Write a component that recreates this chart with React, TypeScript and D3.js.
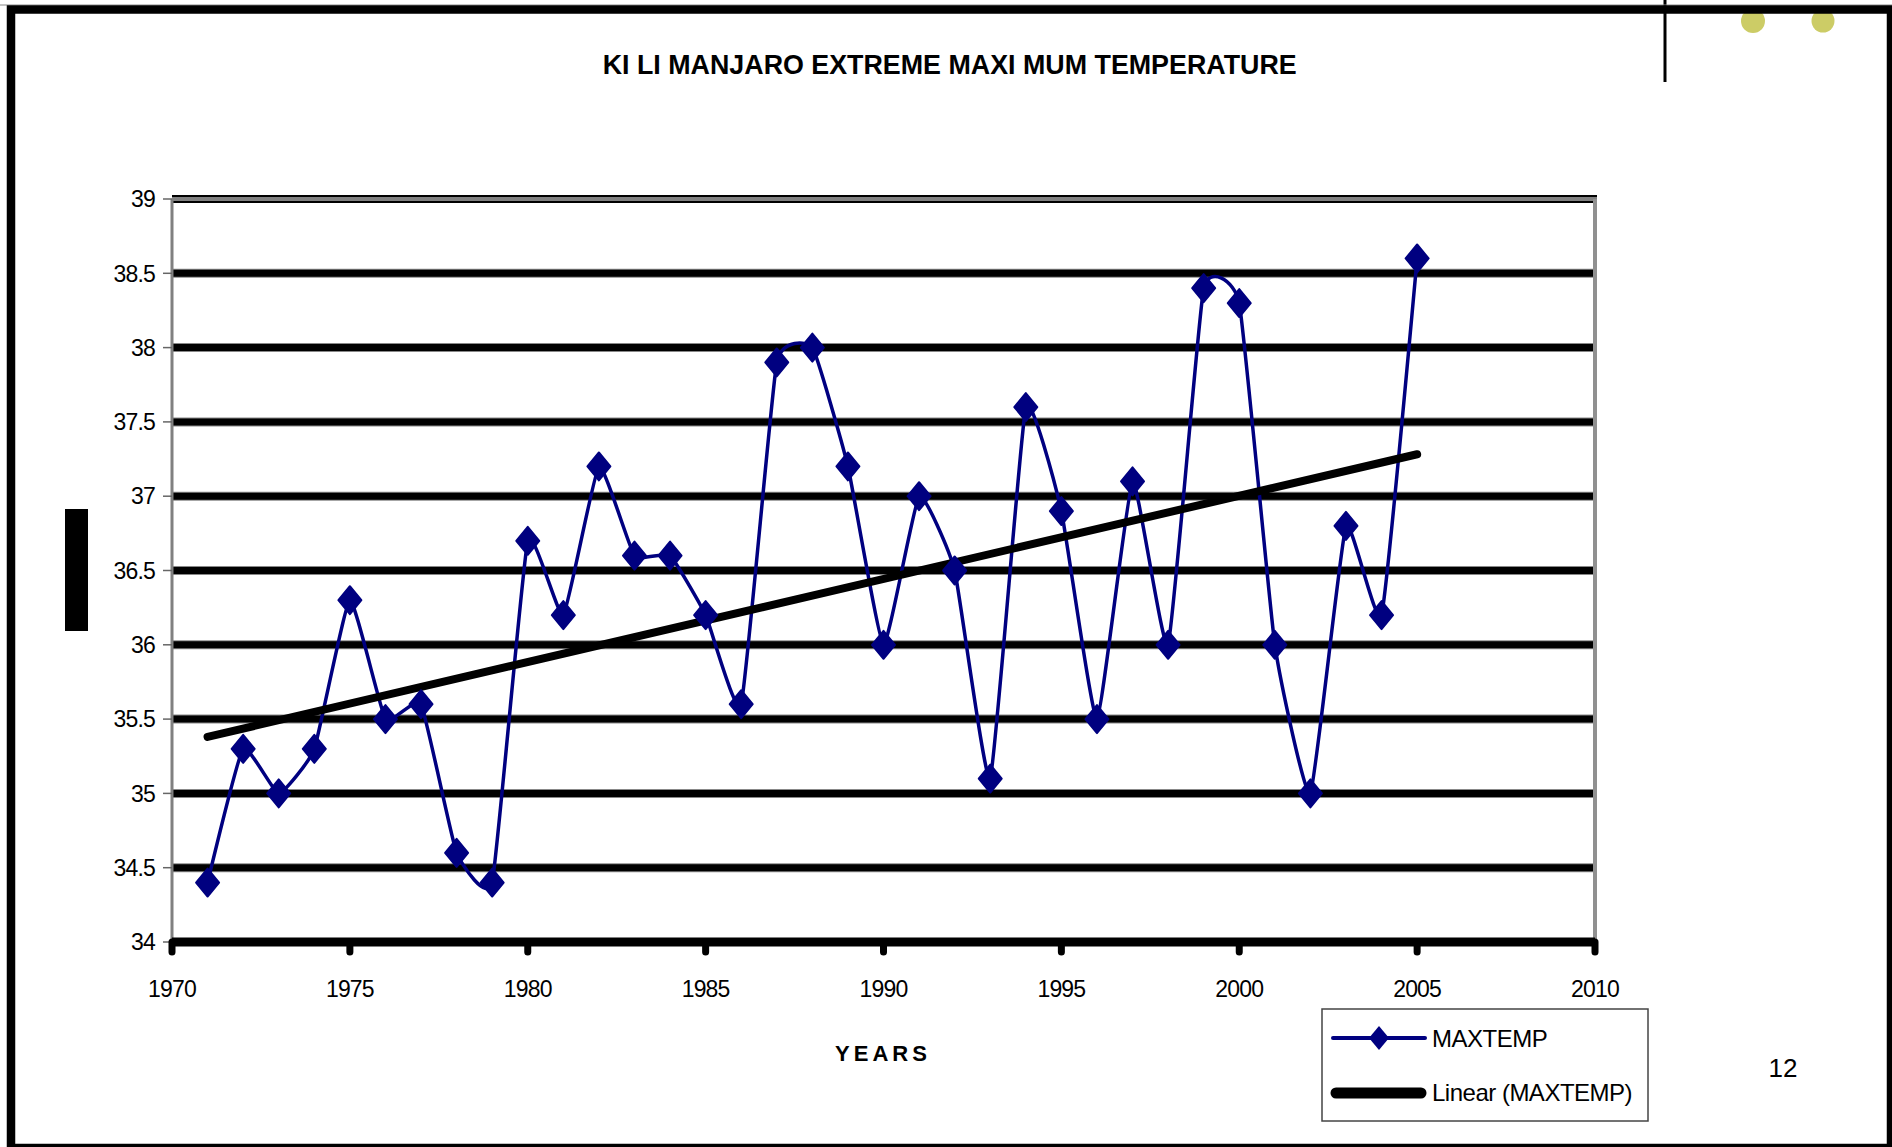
import React from 'react';
import * as d3 from 'd3';

// MAXTEMP series
const years = [
  1971, 1972, 1973, 1974, 1975, 1976, 1977, 1978, 1979, 1980,
  1981, 1982, 1983, 1984, 1985, 1986, 1987, 1988, 1989, 1990,
  1991, 1992, 1993, 1994, 1995, 1996, 1997, 1998, 1999, 2000,
  2001, 2002, 2003, 2004, 2005,
];
const maxTemp = [
  34.4, 35.3, 35.0, 35.3, 36.3, 35.5, 35.6, 34.6, 34.4, 36.7,
  36.2, 37.2, 36.6, 36.6, 36.2, 35.6, 37.9, 38.0, 37.2, 36.0,
  37.0, 36.5, 35.1, 37.6, 36.9, 35.5, 37.1, 36.0, 38.4, 38.3,
  36.0, 35.0, 36.8, 36.2, 38.6,
];
const xTicks = [1970, 1975, 1980, 1985, 1990, 1995, 2000, 2005, 2010];
const yTicks = [34, 34.5, 35, 35.5, 36, 36.5, 37, 37.5, 38, 38.5, 39];

const title = 'KI LI MANJARO EXTREME MAXI MUM TEMPERATURE';
const seriesName = 'MAXTEMP';
const trendName = 'Linear (MAXTEMP)';

const W = 1892;
const H = 1147;
const navy = '#000080';
const font = '"Liberation Sans", Arial, sans-serif';

// diamond marker shape
const diamond = (hw: number, hh: number) => `M0,${-hh}L${hw},0L0,${hh}L${-hw},0Z`;

export default function App() {
  const x = d3.scaleLinear().domain([1970, 2010]).range([172, 1595]);
  const y = d3.scaleLinear().domain([34, 39]).range([942, 199]);

  const pts = years.map((yr, i) => ({ yr, v: maxTemp[i] }));

  // excel-style smoothed line, tighter than plain catmull-rom
  const line = d3
    .line<{ yr: number; v: number }>()
    .x(d => x(d.yr))
    .y(d => y(d.v))
    .curve(d3.curveCardinal.tension(0.6));

  // least squares trend
  const mx = d3.mean(years)!;
  const my = d3.mean(maxTemp)!;
  const slope =
    d3.sum(pts, d => (d.yr - mx) * (d.v - my)) / d3.sum(pts, d => (d.yr - mx) ** 2);
  const trend = (yr: number) => my + slope * (yr - mx);
  const x0 = years[0];
  const x1 = years[years.length - 1];

  const inner = yTicks.filter(t => t > 34 && t < 39);

  return (
    <svg
      width={W}
      height={H}
      style={{ position: 'absolute', left: 0, top: 0, display: 'block', background: '#fff' }}
      fontFamily={font}
    >
      {/* top right decoration */}
      <circle cx={1753} cy={21} r={12} fill="#cccc66" />
      <circle cx={1823} cy={21} r={11.5} fill="#cccc66" />
      <line x1={1665} y1={0} x2={1665} y2={82} stroke="#000" strokeWidth={3} />

      {/* page frame */}
      <line x1={0} y1={5} x2={W} y2={5} stroke="#888" strokeWidth={1} />
      <rect x={11} y={9.5} width={1880} height={1138.5} fill="none" stroke="#000" strokeWidth={8.5} />
      <rect x={65} y={509} width={23} height={122} fill="#000" />

      <text x={602.7} y={74} fontSize={27} fontWeight="bold" textLength={694} lengthAdjust="spacingAndGlyphs">
        {title}
      </text>

      {/* gridlines */}
      {inner.map(t => (
        <g key={t}>
          <line x1={172} x2={1595} y1={y(t)} y2={y(t)} stroke="#888" strokeWidth={9} />
          <line x1={172} x2={1595} y1={y(t)} y2={y(t)} stroke="#000" strokeWidth={7} />
        </g>
      ))}
      <line x1={172} x2={1597} y1={y(39)} y2={y(39)} stroke="#000" strokeWidth={8} />
      <line x1={172} x2={1597} y1={y(39)} y2={y(39)} stroke="#808080" strokeWidth={4} />

      {/* axes */}
      <line x1={172} x2={172} y1={y(39)} y2={y(34)} stroke="#808080" strokeWidth={3} />
      <line x1={1595} x2={1595} y1={y(39)} y2={y(34)} stroke="#909090" strokeWidth={4} />
      {yTicks.map(t => (
        <g key={t}>
          <line x1={163} x2={172} y1={y(t)} y2={y(t)} stroke="#666" strokeWidth={1.5} />
          <text
            x={155}
            y={y(t)}
            dy="0.36em"
            textAnchor="end"
            fontSize={23}
            letterSpacing={-0.8}
          >
            {t}
          </text>
        </g>
      ))}
      <line x1={172} x2={1595} y1={y(34)} y2={y(34)} stroke="#000" strokeWidth={9} />
      {xTicks.map(t => (
        <g key={t}>
          <line
            x1={x(t)}
            x2={x(t)}
            y1={y(34)}
            y2={y(34) + 10}
            stroke="#000"
            strokeWidth={7}
            strokeLinecap="round"
          />
          <text x={x(t)} y={997} textAnchor="middle" fontSize={23} letterSpacing={-0.8}>
            {t}
          </text>
        </g>
      ))}
      <text x={883} y={1061} textAnchor="middle" fontSize={22} fontWeight="bold" letterSpacing={4}>
        YEARS
      </text>

      {/* series */}
      <path d={line(pts) ?? ''} fill="none" stroke={navy} strokeWidth={3.5} />
      <line
        x1={x(x0)}
        y1={y(trend(x0))}
        x2={x(x1)}
        y2={y(trend(x1))}
        stroke="#000"
        strokeWidth={8}
        strokeLinecap="round"
      />
      {pts.map(d => (
        <path
          key={d.yr}
          d={diamond(11.5, 14)}
          transform={`translate(${x(d.yr)},${y(d.v)})`}
          fill={navy}
          stroke={navy}
          strokeWidth={2}
          strokeLinejoin="round"
        />
      ))}

      {/* legend */}
      <rect x={1322} y={1009} width={326} height={112} fill="#fff" stroke="#444" strokeWidth={1.5} />
      <line x1={1333} x2={1425} y1={1038} y2={1038} stroke={navy} strokeWidth={4} strokeLinecap="round" />
      <path d={diamond(10, 12)} transform="translate(1379,1038)" fill={navy} />
      <text x={1432} y={1047} fontSize={24} letterSpacing={-0.5}>
        {seriesName}
      </text>
      <line x1={1336} x2={1421} y1={1093} y2={1093} stroke="#000" strokeWidth={11} strokeLinecap="round" />
      <text x={1432} y={1101} fontSize={24} letterSpacing={-0.5}>
        {trendName}
      </text>

      <text x={1783} y={1077} textAnchor="middle" fontSize={26}>
        12
      </text>
    </svg>
  );
}
